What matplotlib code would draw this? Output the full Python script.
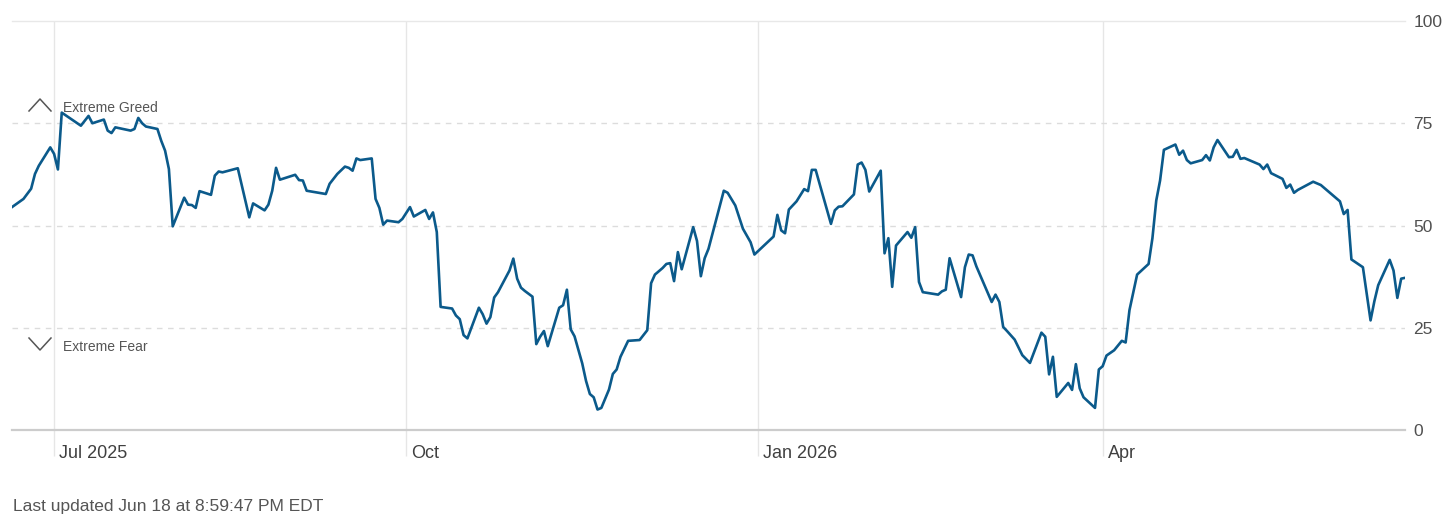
import matplotlib.pyplot as plt
import matplotlib.dates as mdates
from matplotlib.lines import Line2D
import pandas as pd

# fear & greed index readings (one line per month)
dates = [
    "2025-06-20", "2025-06-23", "2025-06-25", "2025-06-26", "2025-06-27", "2025-06-30",
    "2025-07-01", "2025-07-02", "2025-07-03", "2025-07-08", "2025-07-10", "2025-07-11", "2025-07-14",
    "2025-07-15", "2025-07-16", "2025-07-17", "2025-07-21", "2025-07-22", "2025-07-23", "2025-07-24",
    "2025-07-25", "2025-07-28", "2025-07-29", "2025-07-30", "2025-07-31",
    "2025-08-01", "2025-08-04", "2025-08-05", "2025-08-06", "2025-08-07", "2025-08-08", "2025-08-11",
    "2025-08-12", "2025-08-13", "2025-08-14", "2025-08-18", "2025-08-21", "2025-08-22", "2025-08-25",
    "2025-08-26", "2025-08-27", "2025-08-28", "2025-08-29",
    "2025-09-02", "2025-09-03", "2025-09-04", "2025-09-05", "2025-09-10", "2025-09-11", "2025-09-13",
    "2025-09-15", "2025-09-16", "2025-09-17", "2025-09-18", "2025-09-19", "2025-09-22", "2025-09-23",
    "2025-09-24", "2025-09-25", "2025-09-26", "2025-09-29", "2025-09-30",
    "2025-10-02", "2025-10-03", "2025-10-06", "2025-10-07", "2025-10-08", "2025-10-09", "2025-10-10",
    "2025-10-13", "2025-10-14", "2025-10-15", "2025-10-16", "2025-10-17", "2025-10-20", "2025-10-21",
    "2025-10-22", "2025-10-23", "2025-10-24", "2025-10-25", "2025-10-27", "2025-10-28", "2025-10-29",
    "2025-10-30", "2025-10-31",
    "2025-11-01", "2025-11-03", "2025-11-04", "2025-11-05", "2025-11-06", "2025-11-07", "2025-11-10",
    "2025-11-11", "2025-11-12", "2025-11-13", "2025-11-14", "2025-11-16", "2025-11-17", "2025-11-18",
    "2025-11-19", "2025-11-20", "2025-11-21", "2025-11-23", "2025-11-24", "2025-11-25", "2025-11-26",
    "2025-11-28",
    "2025-12-01", "2025-12-02", "2025-12-03", "2025-12-04", "2025-12-05", "2025-12-07", "2025-12-08",
    "2025-12-09", "2025-12-10", "2025-12-11", "2025-12-12", "2025-12-15", "2025-12-16", "2025-12-17",
    "2025-12-18", "2025-12-19", "2025-12-23", "2025-12-24", "2025-12-26", "2025-12-28", "2025-12-30",
    "2025-12-31",
    "2026-01-05", "2026-01-06", "2026-01-07", "2026-01-08", "2026-01-09", "2026-01-11", "2026-01-13",
    "2026-01-14", "2026-01-15", "2026-01-16", "2026-01-20", "2026-01-21", "2026-01-22", "2026-01-23",
    "2026-01-26", "2026-01-27", "2026-01-28", "2026-01-29", "2026-01-30",
    "2026-02-02", "2026-02-03", "2026-02-04", "2026-02-05", "2026-02-06", "2026-02-09", "2026-02-10",
    "2026-02-11", "2026-02-12", "2026-02-13", "2026-02-17", "2026-02-18", "2026-02-19", "2026-02-20",
    "2026-02-23", "2026-02-24", "2026-02-25", "2026-02-26", "2026-02-27",
    "2026-03-03", "2026-03-04", "2026-03-05", "2026-03-06", "2026-03-07", "2026-03-09", "2026-03-11",
    "2026-03-13", "2026-03-16", "2026-03-17", "2026-03-18", "2026-03-19", "2026-03-20", "2026-03-23",
    "2026-03-24", "2026-03-25", "2026-03-26", "2026-03-27", "2026-03-30", "2026-03-31",
    "2026-04-01", "2026-04-02", "2026-04-04", "2026-04-06", "2026-04-07", "2026-04-08", "2026-04-10",
    "2026-04-13", "2026-04-14", "2026-04-15", "2026-04-16", "2026-04-17", "2026-04-20", "2026-04-21",
    "2026-04-22", "2026-04-23", "2026-04-24", "2026-04-27", "2026-04-28", "2026-04-29", "2026-04-30",
    "2026-05-01", "2026-05-04", "2026-05-05", "2026-05-06", "2026-05-07", "2026-05-08", "2026-05-12",
    "2026-05-13", "2026-05-14", "2026-05-15", "2026-05-18", "2026-05-19", "2026-05-20", "2026-05-21",
    "2026-05-22", "2026-05-26", "2026-05-28", "2026-05-29",
    "2026-06-01", "2026-06-02", "2026-06-03", "2026-06-04", "2026-06-05", "2026-06-08", "2026-06-10",
    "2026-06-11", "2026-06-12", "2026-06-15", "2026-06-16", "2026-06-17", "2026-06-18", "2026-06-19",
]
values = [
    54.5, 56.5, 59.0, 62.6, 64.6, 69.1,
    67.5, 63.7, 77.6, 74.4, 76.8, 75.0, 75.9,
    73.2, 72.6, 74.0, 73.2, 73.6, 76.3, 75.0,
    74.2, 73.6, 70.7, 68.3, 63.8,
    49.8, 56.8, 55.1, 55.0, 54.3, 58.4, 57.5,
    62.2, 63.2, 63.0, 64.0, 52.0, 55.4, 53.7,
    55.1, 58.5, 64.1, 61.2,
    62.4, 61.1, 61.0, 58.5, 57.7, 60.2, 62.6,
    64.4, 64.1, 63.4, 66.4, 66.0, 66.4, 56.5,
    54.3, 50.2, 51.2, 50.8, 51.6,
    54.5, 52.2, 53.8, 51.6, 53.2, 48.4, 30.1,
    29.7, 28.0, 27.1, 23.2, 22.4, 29.9, 28.3,
    26.0, 27.6, 32.4, 33.7, 37.2, 39.0, 41.9,
    37.0, 34.8,
    34.0, 32.6, 21.0, 22.8, 24.2, 20.5, 29.9,
    30.5, 34.3, 24.6, 22.9, 16.3, 12.0, 8.8,
    8.0, 5.0, 5.4, 9.9, 13.7, 14.8, 17.9,
    21.8,
    22.0, 23.2, 24.4, 35.9, 38.0, 39.6, 40.6,
    40.8, 36.4, 43.5, 39.3, 49.6, 46.2, 37.6,
    42.0, 44.3, 58.5, 58.0, 54.9, 49.2, 45.9,
    42.9,
    47.3, 52.6, 48.8, 48.1, 53.9, 55.9, 58.9,
    58.4, 63.6, 63.6, 50.4, 53.7, 54.6, 54.7,
    57.6, 64.9, 65.4, 63.6, 58.3,
    63.4, 43.2, 46.9, 35.0, 45.1, 48.4, 47.0,
    49.6, 36.2, 33.7, 33.1, 33.9, 34.3, 42.0,
    32.5, 39.8, 42.9, 42.7, 40.0,
    31.3, 33.1, 31.3, 25.2, 24.2, 22.1, 18.3,
    16.4, 23.8, 22.8, 13.6, 17.9, 8.1, 11.5,
    9.8, 16.1, 10.2, 8.0, 5.4, 14.8,
    15.6, 18.2, 19.5, 21.8, 21.4, 29.3, 38.0,
    40.6, 46.9, 56.1, 61.0, 68.5, 69.8, 67.3,
    68.3, 66.0, 65.2, 66.0, 67.2, 65.9, 69.1,
    70.9, 66.7, 66.8, 68.5, 66.3, 66.5, 64.9,
    63.8, 64.9, 62.8, 61.4, 59.2, 60.0, 58.0,
    58.7, 60.7, 59.9, 59.1,
    56.7, 55.9, 52.8, 53.8, 41.7, 39.8, 26.8,
    31.5, 35.4, 41.6, 39.0, 32.3, 37.0, 37.2,
]

tick_dates = ["2025-07-01", "2025-10-01", "2026-01-01", "2026-04-01"]
tick_labels = ["Jul 2025", "Oct", "Jan 2026", "Apr"]
y_ticks = [0, 25, 50, 75, 100]
footer = "Last updated Jun 18 at 8:59:47 PM EDT"

plt.rcParams['font.family'] = ['Liberation Sans', 'DejaVu Sans']

W, H = 1456, 523
fig = plt.figure(figsize=(W / 100, H / 100), dpi=100)
ax = fig.add_axes([12 / W, (H - 430) / H, (1405 - 12) / W, 409 / H])

x = mdates.date2num(pd.to_datetime(dates))
xt = mdates.date2num(pd.to_datetime(tick_dates))

ax.plot(x, values, color='#0b5a8b', lw=1.9, zorder=5)
ax.set_xlim(x[0], x[-1])
ax.set_ylim(0, 100)

# horizontal guides
ax.axhline(100, color='#e8e8e8', lw=1, zorder=1, clip_on=False)
for v in (25, 50, 75):
    ax.axhline(v, color='#dcdcdc', lw=1, ls=(0, (4, 4)), zorder=1)

for s in ('top', 'left', 'right'):
    ax.spines[s].set_visible(False)
ax.spines['bottom'].set_color('#cccccc')
ax.spines['bottom'].set_linewidth(1.6)

# month lines
for d in xt:
    ax.axvline(d, color='#e6e6e6', lw=1, zorder=0)
ax.set_xticks(xt)
ax.tick_params(axis='x', length=19, width=1, color='#e6e6e6', labelbottom=False)
for d, lab in zip(xt, tick_labels):
    ax.annotate(lab, xy=(d, 0), xycoords=ax.get_xaxis_transform(),
                xytext=(5, -23), textcoords='offset pixels',
                ha='left', va='center', fontsize=13, color='#404040')

ax.yaxis.tick_right()
ax.set_yticks(y_ticks)
ax.set_yticklabels([str(v) for v in y_ticks])
ax.tick_params(axis='y', length=0, pad=6, labelsize=12.5, labelcolor='#505050')

# zone markers
def px(xp, yp):
    return xp / W, 1 - yp / H

up = [px(29, 111), px(40, 99), px(51, 111)]
down = [px(29, 338), px(40, 350), px(51, 338)]
for pts in (up, down):
    fig.add_artist(Line2D([p[0] for p in pts], [p[1] for p in pts],
                          color='#555555', lw=1.1, transform=fig.transFigure))

fig.text(*px(63, 107.5), "Extreme Greed", fontsize=10, color='#555555', va='center')
fig.text(*px(63, 347), "Extreme Fear", fontsize=10, color='#555555', va='center')
fig.text(*px(13, 506), footer, fontsize=12.5, color='#555555', va='center')

fig.savefig('out.png', dpi=100)
